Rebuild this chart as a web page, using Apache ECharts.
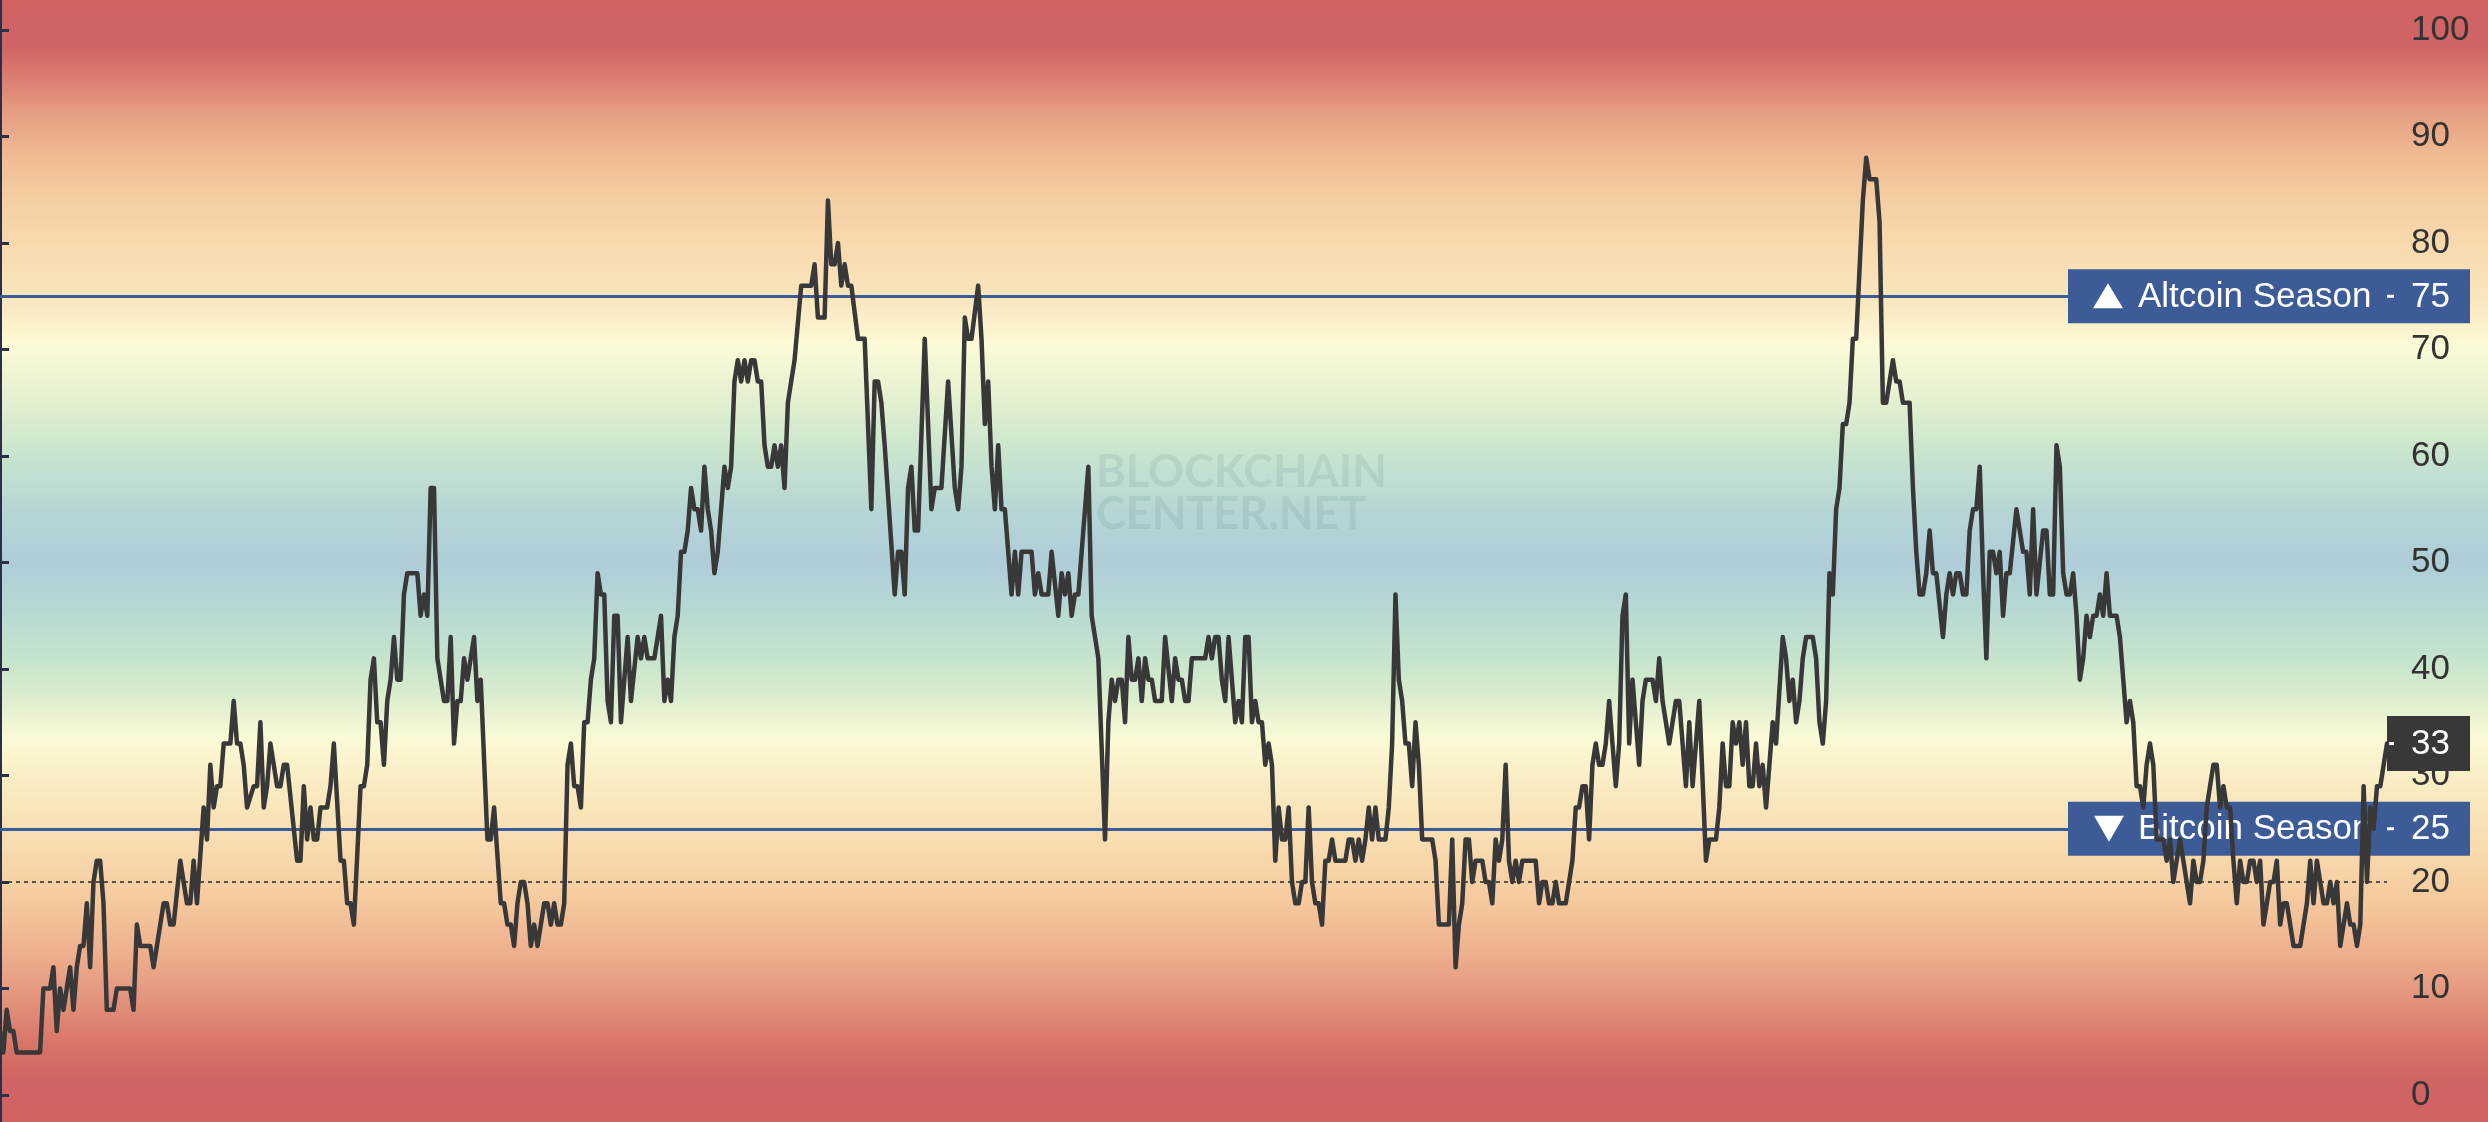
<!DOCTYPE html>
<html>
<head>
<meta charset="utf-8">
<script src="https://cdn.jsdelivr.net/npm/echarts@6/dist/echarts.min.js"></script>
<style>
html,body{margin:0;padding:0;background:#fff;overflow:hidden}
#c{width:2488px;height:1122px}
</style>
</head>
<body>
<div id="c"></div>
<script>
// ---------------- DATA ----------------
// day index of each vertex of the index line
const days = [
0,1,2,3,4,5,12,13,15,16,17,18,19,21,22,23,24,25,26,27,28,29,30,31,32,34,35,39,40,41,42,45,46,49,50,51,52,54,56,57,58,59,61,62,63,64,65,66,67,69,70,71,72,73,74,76,77,
78,79,80,81,83,84,85,86,89,90,91,92,93,94,95,96,98,99,100,102,103,104,105,106,108,109,110,111,112,113,114,115,116,117,118,119,120,121,122,125,126,127,128,129,130,131,133,134,135,136,137,138,139,140,142,143,144,146,147,148,150,151,152,153,154,155,
156,157,158,159,160,161,163,164,165,166,167,168,169,170,171,172,173,174,175,176,177,178,179,180,181,182,183,184,185,186,188,189,191,192,193,194,196,198,199,200,201,202,203,204,205,206,207,208,209,210,211,212,213,214,215,217,218,219,220,221,222,223,224,225,226,227,228,229,230,231,
232,233,234,235,236,238,240,243,244,245,247,248,249,250,251,252,253,254,255,257,259,261,262,263,264,265,268,269,270,271,272,273,274,275,277,278,279,280,282,284,286,287,288,289,290,291,293,294,295,296,297,298,299,300,301,303,304,305,306,
309,310,311,312,314,315,317,318,319,320,321,322,323,326,327,329,331,332,333,334,335,336,337,338,339,340,341,342,343,344,345,346,348,349,351,352,353,354,355,356,357,361,362,363,364,365,366,367,368,369,370,371,372,373,374,375,376,377,378,379,380,381,382,383,
384,385,386,387,388,389,390,391,392,393,394,395,396,397,398,399,400,403,404,405,406,407,408,409,410,411,412,413,415,416,417,418,419,420,421,422,423,424,425,426,429,430,431,434,435,436,437,438,439,440,441,442,444,445,446,447,448,449,450,451,452,453,454,455,456,458,
460,461,462,463,464,465,466,467,469,471,472,473,474,475,476,477,478,479,480,481,482,483,484,485,486,487,488,489,490,491,492,493,495,496,497,498,500,502,503,505,506,507,509,511,512,514,515,516,517,518,519,520,521,522,523,524,525,526,527,528,529,531,532,534,
535,536,537,538,539,540,541,543,544,545,546,547,548,549,550,551,552,553,554,555,556,558,559,560,562,563,564,565,567,568,569,570,572,573,574,575,576,577,578,579,580,582,583,584,585,586,587,588,589,590,591,592,593,594,595,596,597,598,599,600,601,
602,604,606,607,608,609,610,612,613,614,615,616,617,618,619,620,621,622,623,624,625,626,627,628,629,630,631,632,634,635,637,638,639,640,641,642,643,644,645,646,648,649,650,651,653,654,656,657,658,659,660,661,662,663,664,665,666,667,
668,669,670,671,672,673,674,675,676,677,678,679,680,681,682,683,684,685,687,689,690,691,692,693,694,695,696,697,698,699,700,701,702,703,704,705,706,707,708,709,710,711,712,713,714,715
];
// Altcoin Season Index value at each vertex
const altIndex = [
6,4,8,6,6,4,4,10,10,12,6,10,8,12,8,12,14,14,18,12,20,22,22,18,8,8,10,10,8,16,14,14,12,18,18,16,16,22,18,18,22,18,27,24,31,27,29,29,33,33,37,33,33,31,27,29,29,
35,27,29,33,29,29,31,31,22,22,29,24,27,24,24,27,27,29,33,22,22,18,18,16,29,29,31,39,41,35,35,31,37,39,43,39,39,47,49,49,45,47,45,57,57,41,37,37,43,33,37,37,41,39,43,37,39,24,24,27,18,18,16,16,14,18,
20,20,18,14,16,14,18,18,16,18,16,16,18,31,33,29,29,27,35,35,39,41,49,47,47,37,35,45,45,35,43,37,43,41,43,41,41,45,37,39,37,43,45,51,51,53,57,55,55,53,59,55,53,49,51,59,57,59,67,69,67,69,67,69,69,67,67,61,59,59,
61,59,61,57,65,69,76,76,78,73,73,84,78,78,80,76,78,76,76,71,71,55,67,67,65,61,47,51,51,47,57,59,53,53,71,63,55,57,57,67,57,55,59,73,71,71,76,71,63,67,59,55,61,55,55,47,51,47,51,
51,47,49,47,47,51,45,49,47,49,45,47,47,59,45,41,24,35,39,37,39,39,35,43,39,39,41,37,41,39,39,37,37,43,37,41,39,39,37,37,41,41,43,41,43,43,39,37,43,39,35,37,35,43,43,35,37,35,35,31,33,31,22,27,
24,24,27,20,18,18,20,20,27,20,18,18,16,22,22,24,22,22,24,24,22,24,22,24,27,24,27,24,24,27,33,47,39,37,33,33,29,35,31,24,24,22,16,16,24,12,16,18,24,24,20,22,22,20,20,18,24,22,24,31,22,20,22,20,22,22,
22,18,20,20,18,18,20,18,18,22,27,27,29,29,24,31,33,31,31,33,37,33,29,33,45,47,33,39,35,31,37,39,39,37,41,37,33,37,37,29,35,29,37,22,24,24,27,33,29,29,35,33,35,31,35,29,29,33,29,31,27,35,33,43,
41,37,39,35,37,41,43,43,41,35,33,37,49,47,55,57,63,63,65,71,71,84,88,86,86,82,65,65,69,67,67,65,65,57,51,47,47,49,53,49,49,43,47,49,47,49,49,47,47,53,55,55,59,49,41,51,51,49,51,45,49,
49,55,51,51,47,55,47,53,53,47,47,61,59,49,47,47,49,45,39,41,45,43,45,45,47,45,49,45,45,43,35,37,35,29,29,27,31,33,31,24,24,22,24,20,24,22,18,22,20,20,22,27,29,31,31,27,29,27,
27,22,18,22,20,20,22,22,20,22,16,18,20,20,22,16,18,18,14,14,16,18,22,18,22,20,18,18,20,18,20,14,16,18,16,16,14,16,29,20,27,25,29,29,31,33
];
const yTicks = [0,10,20,30,40,50,60,70,80,90,100];
const altcoinLevel = 75;
const bitcoinLevel = 25;
const refLevel = 20;
const altcoinLabel = 'Altcoin Season';
const bitcoinLabel = 'Bitcoin Season';
const watermarkLines = ['BLOCKCHAIN', 'CENTER.NET'];

// ---------------- CHART ----------------
const W = 2488, H = 1122;
const chart = echarts.init(document.getElementById('c'), null, {renderer: 'canvas', width: W, height: H});

const seriesData = days.map((d, i) => [d, altIndex[i]]);
const BLUE = '#3d5c97';
const LINE = '#383838';
const FONT = 'Liberation Sans, Arial, sans-serif';

const option = {
  animation: false,
  grid: {left: 0, right: 101, top: 0, bottom: 0, containLabel: false},
  xAxis: {type: 'value', min: 0, max: days[days.length - 1], show: false},
  yAxis: {
    type: 'value', position: 'right', min: -2.535, max: 102.82,
    splitLine: {show: false},
    axisLine: {show: true, lineStyle: {color: '#2b2f47', width: 3}},
    axisTick: {show: true, length: 9, customValues: yTicks, lineStyle: {color: '#2b2f47', width: 3}},
    axisLabel: {show: true, customValues: yTicks, margin: 24, color: '#333333', fontSize: 35, fontFamily: FONT}
  },
  series: [
    {
      type: 'line', name: 'levels', data: seriesData, z: 1, silent: true,
      showSymbol: false, symbol: 'none', lineStyle: {opacity: 0},
      markLine: {
        z: 1, silent: true, symbol: 'none', animation: false, label: {show: false},
        data: [
          {yAxis: altcoinLevel, lineStyle: {color: BLUE, width: 3, type: 'solid'}},
          {yAxis: bitcoinLevel, lineStyle: {color: BLUE, width: 3, type: 'solid'}},
          {yAxis: refLevel, lineStyle: {color: '#333', width: 1.6, type: [4, 4]}}
        ]
      }
    },
    {
      type: 'line', name: 'Altcoin Season Index', data: seriesData, z: 5,
      showSymbol: false, symbol: 'none', silent: true,
      lineStyle: {color: LINE, width: 4.5, join: 'round', cap: 'round'}
    }
  ]
};
chart.setOption(option);

// positions derived through the library's scales
const yOf = v => chart.convertToPixel({yAxisIndex: 0}, v);
const axisX = chart.convertToPixel({xAxisIndex: 0}, days[days.length - 1]);

const bg = new echarts.graphic.LinearGradient(0, 0, 0, 1, [
  {offset: 0.000, color: '#d06262'},
  {offset: 0.042, color: '#d06464'},
  {offset: 0.070, color: '#db7d71'},
  {offset: 0.100, color: '#e69d81'},
  {offset: 0.140, color: '#f0bb94'},
  {offset: 0.180, color: '#f5cfa3'},
  {offset: 0.223, color: '#f8dbaf'},
  {offset: 0.267, color: '#f9e6be'},
  {offset: 0.307, color: '#fcfad6'},
  {offset: 0.357, color: '#e3f0d0'},
  {offset: 0.406, color: '#c8e4ce'},
  {offset: 0.455, color: '#b6d6d5'},
  {offset: 0.501, color: '#aecdd8'},
  {offset: 0.548, color: '#b8dad2'},
  {offset: 0.588, color: '#c6e4cd'},
  {offset: 0.624, color: '#ddeecf'},
  {offset: 0.658, color: '#fbfad6'},
  {offset: 0.704, color: '#f9eac0'},
  {offset: 0.753, color: '#f8dcaf'},
  {offset: 0.802, color: '#f5ca9e'},
  {offset: 0.847, color: '#eeb18e'},
  {offset: 0.891, color: '#e3937c'},
  {offset: 0.931, color: '#d87468'},
  {offset: 0.963, color: '#d06363'},
  {offset: 1.000, color: '#d06262'}
]);

function levelBox(id, level, label, up) {
  const y = yOf(level);
  const bx = 2068, bw = 402, bh = 54;
  const tri = up
    ? [[2093, y + 12], [2108, y - 13], [2123, y + 12]]
    : [[2094, y - 13], [2109, y + 13], [2124, y - 13]];
  return [
    {type: 'rect', id: id + '_box', z: 3, shape: {x: bx, y: y - bh / 2, width: bw, height: bh}, style: {fill: BLUE}},
    {type: 'polygon', id: id + '_tri', z: 3, shape: {points: tri}, style: {fill: '#fff'}},
    {type: 'text', id: id + '_txt', z: 3, x: 2138, y: y + 1,
      style: {text: label, fill: '#fff', font: '35px ' + FONT, textAlign: 'left', textVerticalAlign: 'middle'}},
    {type: 'rect', id: id + '_dash', z: 3, shape: {x: axisX, y: y - 1.5, width: 7, height: 3}, style: {fill: '#fff'}},
    {type: 'text', id: id + '_val', z: 3, x: 2411, y: y + 1,
      style: {text: String(level), fill: '#fff', font: '35px ' + FONT, textAlign: 'left', textVerticalAlign: 'middle'}}
  ];
}

const lastVal = altIndex[altIndex.length - 1];
const yLast = yOf(lastVal);

const graphics = [
  {type: 'rect', id: 'bg', z: -100, silent: true, shape: {x: 0, y: 0, width: W, height: H}, style: {fill: bg}},
  {type: 'text', id: 'wm1', z: 1, silent: true, x: 1096, y: 472,
    style: {text: watermarkLines[0], fill: 'rgba(90,125,125,0.14)', font: 'bold 45px Lato, sans-serif', textAlign: 'left', textVerticalAlign: 'middle'}},
  {type: 'text', id: 'wm2', z: 1, silent: true, x: 1096, y: 514,
    style: {text: watermarkLines[1], fill: 'rgba(90,125,125,0.14)', font: 'bold 45px Lato, sans-serif', textAlign: 'left', textVerticalAlign: 'middle'}}
]
.concat(levelBox('alt', altcoinLevel, altcoinLabel, true))
.concat(levelBox('btc', bitcoinLevel, bitcoinLabel, false))
.concat([
  {type: 'rect', id: 'cur_box', z: 3, shape: {x: axisX, y: yLast - 27.5, width: 2470 - axisX, height: 55}, style: {fill: '#383838'}},
  {type: 'rect', id: 'cur_dash', z: 3, shape: {x: axisX, y: yLast - 1.5, width: 7, height: 3}, style: {fill: '#fff'}},
  {type: 'text', id: 'cur_val', z: 3, x: 2411, y: yLast + 1,
    style: {text: String(lastVal), fill: '#fff', font: '35px ' + FONT, textAlign: 'left', textVerticalAlign: 'middle'}}
]);

chart.setOption({graphic: graphics});
</script>
</body>
</html>
